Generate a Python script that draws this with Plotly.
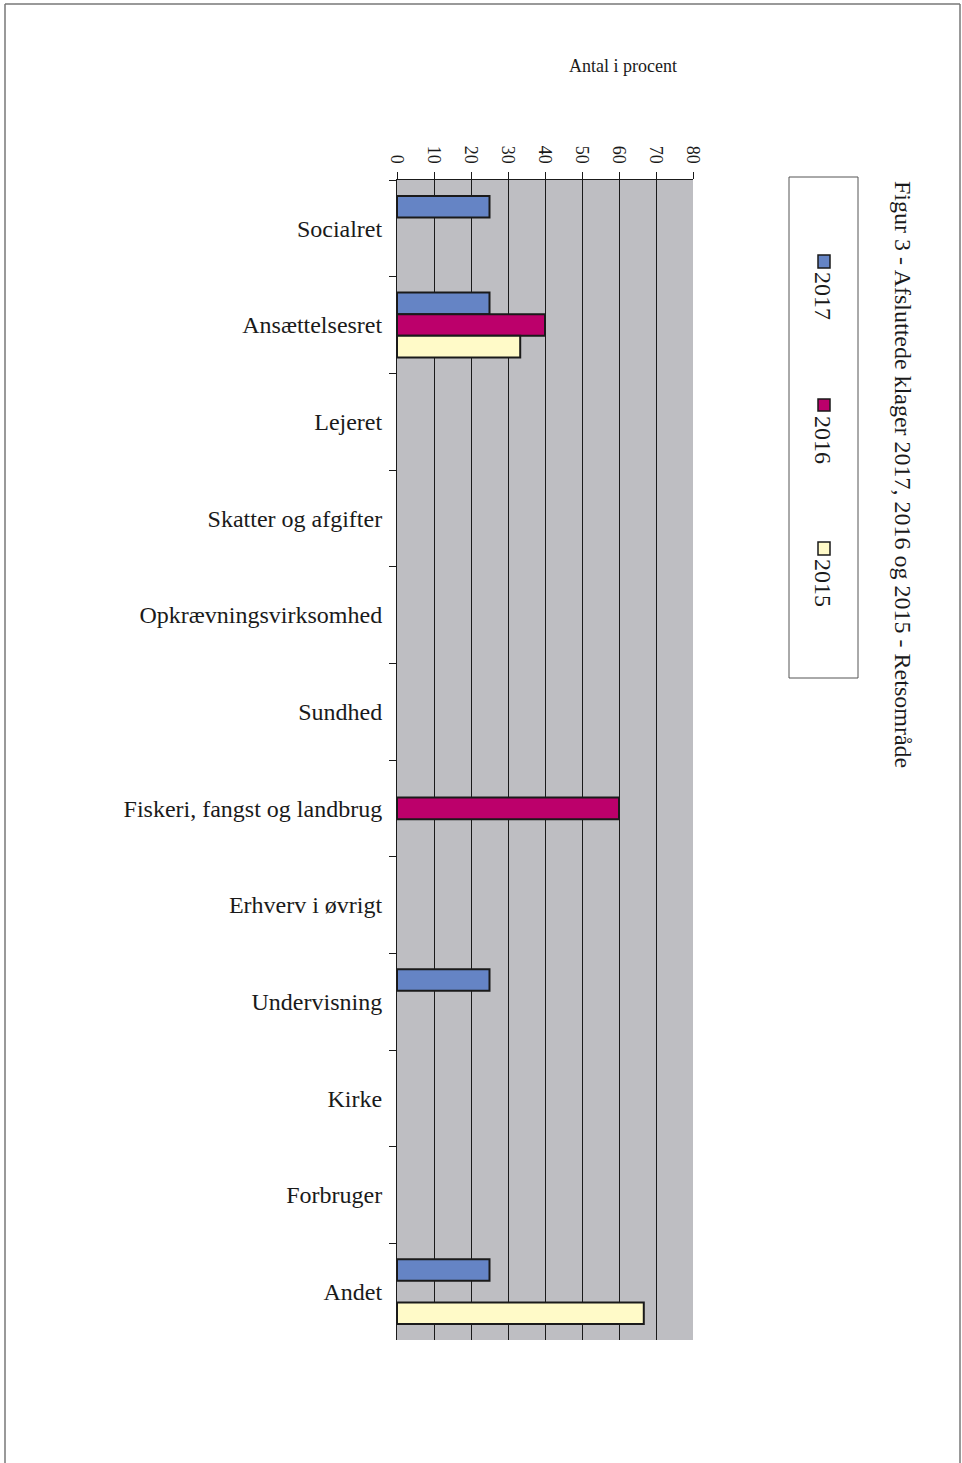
import plotly.graph_objects as go

categories = ["Socialret", "Ansættelsesret", "Lejeret", "Skatter og afgifter",
              "Opkrævningsvirksomhed", "Sundhed", "Fiskeri, fangst og landbrug",
              "Erhverv i øvrigt", "Undervisning", "Kirke", "Forbruger", "Andet"]
v2017 = [25, 25, None, None, None, None, None, None, 25, None, None, 25]
v2016 = [None, 40, None, None, None, None, 60, None, None, None, None, None]
v2015 = [None, 33.3, None, None, None, None, None, None, None, None, None, 66.7]
series_names = ["2017", "2016", "2015"]
colors = ["#6584C5", "#BC006B", "#FFFAC8"]
x_ticks = [0, 10, 20, 30, 40, 50, 60, 70, 80]

W, H = 962, 1463
def px(x):
    return x / W
def py(y):
    return 1 - y / H

FONT = "Liberation Serif, Times New Roman, serif"

fig = go.Figure()
for name, vals, col in zip(series_names, [v2017, v2016, v2015], colors):
    fig.add_trace(go.Bar(
        y=categories, x=vals, name=name, orientation="h",
        marker=dict(color=col, line=dict(color="#1a1a1a", width=2)),
        showlegend=False,
    ))

fig.update_layout(
    width=W, height=H,
    margin=dict(l=0, r=0, t=0, b=0),
    paper_bgcolor="white",
    plot_bgcolor="#BEBEC2",
    barmode="group",
    bargap=0.33,
    bargroupgap=0,
    font=dict(family=FONT, color="#1a1a1a"),
    xaxis=dict(
        domain=[px(397), px(693)],
        side="top", range=[0, 80], tickvals=x_ticks,
        tickangle=90, ticks="outside", ticklen=7, tickcolor="#1a1a1a",
        showline=True, linecolor="#1a1a1a", linewidth=1,
        showgrid=True, gridcolor="#1a1a1a", gridwidth=1,
        zeroline=False, automargin=False,
        tickfont=dict(size=18, family=FONT),
        ticklabelstandoff=2,
    ),
    yaxis=dict(
        domain=[py(1340), py(180)],
        type="category", autorange="reversed",
        tickson="boundaries", ticks="outside", ticklen=7, tickcolor="#1a1a1a",
        showline=True, linecolor="#1a1a1a", linewidth=1,
        showgrid=False, zeroline=False, automargin=False,
        tickfont=dict(size=24, family=FONT),
        ticklabelstandoff=9,
    ),
)

annotations = [
    dict(text="Antal i procent", x=px(623), y=py(66), xref="paper", yref="paper",
         xanchor="center", yanchor="middle",
         showarrow=False, font=dict(size=18, family=FONT)),
    dict(text="Figur 3 - Afsluttede klager 2017, 2016 og 2015 - Retsområde",
         x=px(903), y=py(474), xref="paper", yref="paper", textangle=90,
         xanchor="center", yanchor="middle",
         showarrow=False, font=dict(size=24, family=FONT)),
]
shapes = []
# legend box
shapes.append(dict(type="rect", xref="paper", yref="paper",
                   x0=px(789), x1=px(858), y0=py(678), y1=py(177),
                   line=dict(color="#555", width=1), fillcolor="white"))
leg_sq = [(255, 268), (399, 411), (542, 555)]
leg_txt = [296, 440, 583]
for name, col, (s0, s1), tc in zip(series_names, colors, leg_sq, leg_txt):
    shapes.append(dict(type="rect", xref="paper", yref="paper",
                       x0=px(818), x1=px(830), y0=py(s1), y1=py(s0),
                       line=dict(color="#1a1a1a", width=1.5), fillcolor=col))
    annotations.append(dict(text=name, x=px(823), y=py(tc), xref="paper", yref="paper",
                            textangle=90, showarrow=False,
                            xanchor="center", yanchor="middle",
                            font=dict(size=24, family=FONT)))
# page border
for x0, y0, x1, y1 in [(5, 4, 5, H), (960, 4, 960, H), (5, 4, 960, 4)]:
    shapes.append(dict(type="line", xref="paper", yref="paper",
                       x0=px(x0), x1=px(x1), y0=py(y0), y1=py(y1),
                       line=dict(color="#777", width=1.5)))

fig.update_layout(annotations=annotations, shapes=shapes)
fig.write_html("out.html", config={"displayModeBar": False},
               post_script="document.body.style.margin='0';document.body.style.overflow='hidden';")
